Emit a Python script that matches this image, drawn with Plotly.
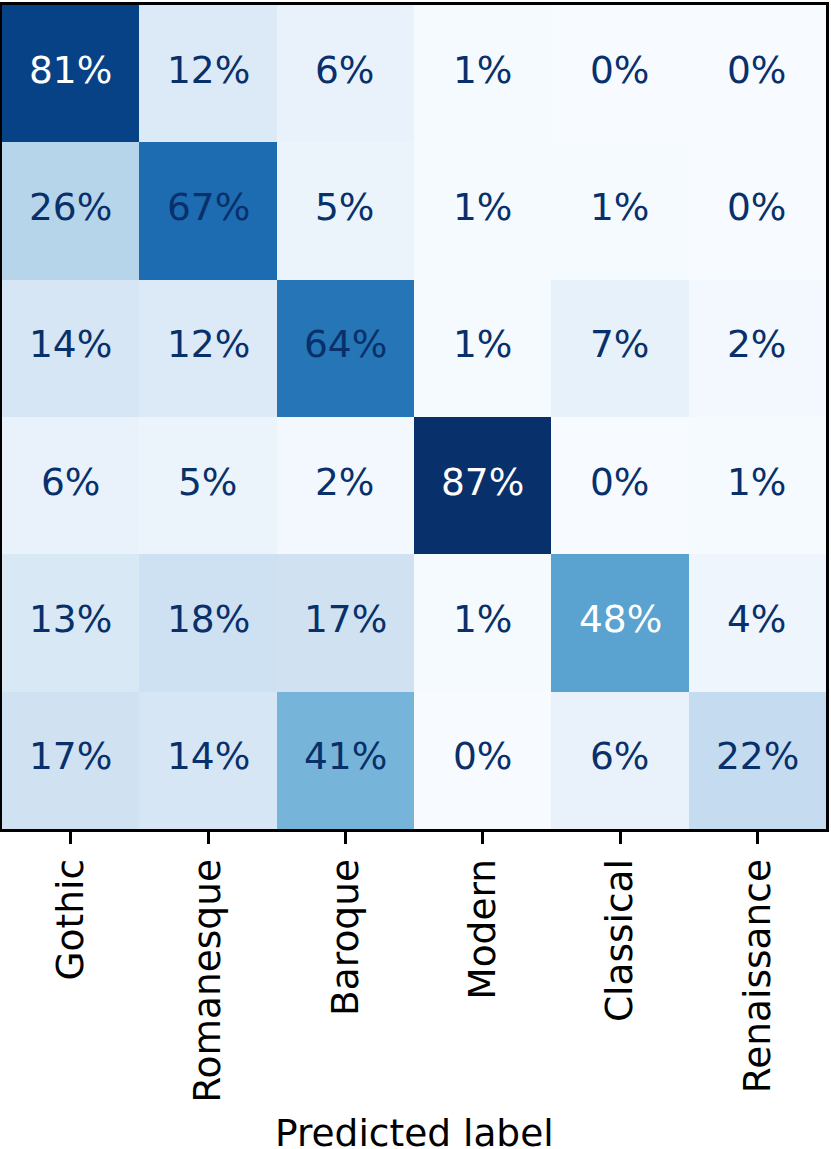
import plotly.graph_objects as go

labels = ['Gothic', 'Romanesque', 'Baroque', 'Modern', 'Classical', 'Renaissance']

# rows = true label, columns = predicted label (percent)
gothic = [81, 12, 6, 1, 0, 0]
romanesque = [26, 67, 5, 1, 1, 0]
baroque = [14, 12, 64, 1, 7, 2]
modern = [6, 5, 2, 87, 0, 1]
classical = [13, 18, 17, 1, 48, 4]
renaissance = [17, 14, 41, 0, 6, 22]

matrix = [gothic, romanesque, baroque, modern, classical, renaissance]

# cells whose value text is drawn in white (row, col)
white_text_cells = [(0, 0), (3, 3), (4, 4)]

font_family = 'DejaVu Sans'
font_size = 37.5
dark_text = 'rgb(8,48,107)'

fig = go.Figure(data=go.Heatmap(
    z=matrix,
    x=labels,
    y=labels,
    colorscale='Blues',
    zmin=0,
    zmax=max(max(r) for r in matrix),
    showscale=False,
    hoverinfo='skip',
))

for i, row in enumerate(matrix):
    for j, v in enumerate(row):
        fig.add_annotation(
            x=labels[j], y=labels[i], text=f'{v}%', showarrow=False, yshift=4,
            font=dict(size=font_size, family=font_family,
                      color='white' if (i, j) in white_text_cells else dark_text),
        )

fig.add_annotation(
    x=0.5, y=0, xref='paper', yref='paper', yanchor='middle', yshift=-304,
    text='Predicted label', showarrow=False,
    font=dict(size=font_size, family=font_family, color='black'),
)

fig.update_layout(
    width=831,
    height=1149,
    margin=dict(l=2, r=2, t=2, b=320),
    plot_bgcolor='white',
    paper_bgcolor='white',
    font=dict(family=font_family, size=font_size, color='black'),
)
fig.update_xaxes(
    showline=True, mirror=True, linecolor='black', linewidth=3,
    ticks='outside', ticklen=12, tickwidth=3, tickcolor='black',
    tickangle=-90, tickfont=dict(size=font_size), showgrid=False,
)
fig.update_yaxes(
    autorange='reversed', showticklabels=False,
    showline=True, mirror=True, linecolor='black', linewidth=3, showgrid=False,
)

# drop the browser's default page margin so the figure sits at the corner
fig.write_html('out.html', config={'displayModeBar': False},
               post_script="document.body.style.margin='0';")
